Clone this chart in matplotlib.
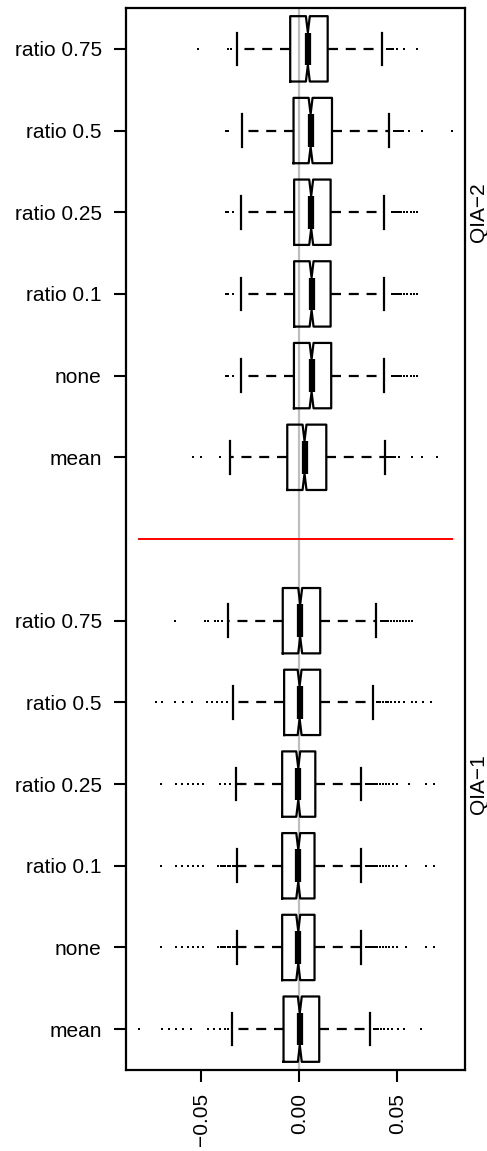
import matplotlib
matplotlib.use("Agg")
import matplotlib.pyplot as plt
import matplotlib.transforms as mtransforms
import numpy as np

plt.rcParams['font.family'] = ['Liberation Sans', 'DejaVu Sans']

# ---------------- data ----------------
labels = ["mean", "none", "ratio 0.1", "ratio 0.25", "ratio 0.5", "ratio 0.75"]
groups = ["QIA\u22121", "QIA\u22122"]

# QIA-1 (bottom group), order as labels
q1_qia1 = [-0.0080, -0.0087, -0.0087, -0.0087, -0.0077, -0.0084]
med_qia1 = [0.0003, -0.0005, -0.0005, -0.0005, 0.0002, 0.0005]
q3_qia1 = [0.0102, 0.0078, 0.0078, 0.0082, 0.0107, 0.0107]
wlo_qia1 = [-0.0344, -0.0319, -0.0319, -0.0324, -0.0339, -0.0362]
whi_qia1 = [0.0360, 0.0317, 0.0317, 0.0317, 0.0377, 0.0389]
fl_qia1 = [
    [-0.0819, -0.0700, -0.0664, -0.0630, -0.0592, -0.0551, -0.0464, -0.0432, -0.0404, -0.0379, -0.0362,
     0.0380, 0.0390, 0.0400, 0.0415, 0.0430, 0.0450, 0.0475, 0.0505, 0.0534, 0.0619],
    [-0.0703, -0.0626, -0.0600, -0.0566, -0.0541, -0.0515, -0.0490, -0.0413, -0.0400, -0.0388, -0.0376,
     -0.0364, -0.0352, -0.0340, -0.0328,
     0.0338, 0.0345, 0.0352, 0.0360, 0.0368, 0.0376, 0.0385, 0.0395, 0.0410, 0.0425, 0.0440, 0.0460,
     0.0480, 0.0500, 0.0546, 0.0645, 0.0687],
    [-0.0703, -0.0626, -0.0600, -0.0566, -0.0541, -0.0515, -0.0490, -0.0413, -0.0400, -0.0388, -0.0376,
     -0.0364, -0.0352, -0.0340, -0.0328,
     0.0338, 0.0345, 0.0352, 0.0360, 0.0368, 0.0376, 0.0385, 0.0395, 0.0410, 0.0425, 0.0440, 0.0460,
     0.0480, 0.0500, 0.0546, 0.0645, 0.0687],
    [-0.0703, -0.0626, -0.0600, -0.0566, -0.0541, -0.0515, -0.0490, -0.0404, -0.0379, -0.0353,
     0.0338, 0.0345, 0.0352, 0.0360, 0.0368, 0.0376, 0.0385, 0.0395, 0.0410, 0.0425, 0.0440, 0.0460,
     0.0480, 0.0500, 0.0559, 0.0645, 0.0687],
    [-0.0728, -0.0698, -0.0635, -0.0592, -0.0549, -0.0472, -0.0447, -0.0421, -0.0396, -0.0370,
     0.0397, 0.0405, 0.0413, 0.0425, 0.0440, 0.0455, 0.0470, 0.0490, 0.0510, 0.0534, 0.0577, 0.0594,
     0.0633, 0.0670],
    [-0.0635, -0.0478, -0.0464, -0.0430, -0.0413, -0.0396,
     0.0415, 0.0425, 0.0435, 0.0445, 0.0455, 0.0470, 0.0485, 0.0500, 0.0515, 0.0530, 0.0545, 0.0560, 0.0577],
]

# QIA-2 (top group)
q1_qia2 = [-0.0061, -0.0027, -0.0026, -0.0026, -0.0029, -0.0046]
med_qia2 = [0.0027, 0.0063, 0.0063, 0.0061, 0.0058, 0.0044]
q3_qia2 = [0.0138, 0.0163, 0.0160, 0.0160, 0.0167, 0.0145]
wlo_qia2 = [-0.0353, -0.0297, -0.0297, -0.0297, -0.0293, -0.0316]
whi_qia2 = [0.0435, 0.0432, 0.0432, 0.0432, 0.0457, 0.0423]
fl_qia2 = [
    [-0.0544, -0.0503, -0.0404, 0.0449, 0.0458, 0.0468, 0.0478, 0.0490, 0.0508, 0.0577, 0.0628, 0.0701],
    [-0.0374, -0.0362, -0.0336, 0.0474, 0.0480, 0.0486, 0.0492, 0.0500, 0.0508, 0.0520, 0.0535, 0.0551,
     0.0568, 0.0585, 0.0599],
    [-0.0374, -0.0362, -0.0336, 0.0474, 0.0480, 0.0486, 0.0492, 0.0500, 0.0508, 0.0520, 0.0535, 0.0551,
     0.0568, 0.0585, 0.0599],
    [-0.0374, -0.0362, -0.0336, 0.0474, 0.0480, 0.0486, 0.0492, 0.0500, 0.0508, 0.0520, 0.0535, 0.0551,
     0.0568, 0.0585, 0.0599],
    [-0.0374, -0.0362, 0.0483, 0.0490, 0.0500, 0.0510, 0.0520, 0.0530, 0.0559, 0.0628, 0.0781],
    [-0.0517, -0.0362, -0.0350, 0.0449, 0.0455, 0.0462, 0.0470, 0.0478, 0.0500, 0.0534, 0.0602],
]
notch_half = 0.001

xticks = [-0.05, 0.0, 0.05]
xticklabels = ["\u22120.05", "0.00", "0.05"]

# ---------------- build ----------------
def make_stats(q1, med, q3, wlo, whi, fl):
    out = []
    for i in range(len(q1)):
        out.append(dict(q1=q1[i], med=med[i], q3=q3[i], whislo=wlo[i], whishi=whi[i],
                        cilo=med[i] - notch_half, cihi=med[i] + notch_half,
                        fliers=np.array(fl[i]), label=labels[i]))
    return out

stats = make_stats(q1_qia1, med_qia1, q3_qia1, wlo_qia1, whi_qia1, fl_qia1) + \
        make_stats(q1_qia2, med_qia2, q3_qia2, wlo_qia2, whi_qia2, fl_qia2)
positions = list(range(1, 7)) + list(range(8, 14))

fig = plt.figure(figsize=(4.87, 11.51), dpi=100)
ax = fig.add_axes([126/487, 1 - 1070/1151, (465-126)/487, (1070-8)/1151])

ax.axvline(0, color="#bebebe", lw=1.6, zorder=0)

ax.bxp(stats, positions=positions, widths=0.8, capwidths=0.4, orientation='horizontal',
       shownotches=True, patch_artist=False,
       boxprops=dict(color='black', linewidth=1.6),
       whiskerprops=dict(color='black', linewidth=1.6, linestyle=(0, (4.5, 3.5))),
       capprops=dict(color='black', linewidth=1.6),
       medianprops=dict(color='black', linewidth=4.5, solid_capstyle='butt'),
       flierprops=dict(marker='s', markersize=1.5, markerfacecolor='black',
                       markeredgewidth=0, linestyle='none'))

all_vals = np.concatenate([np.array(s['fliers']) for s in stats] +
                          [np.array([s['whislo'], s['whishi']]) for s in stats])
dmin, dmax = all_vals.min(), all_vals.max()
ax.plot([dmin, dmax], [7, 7], color='red', lw=1.4, zorder=3)

pad = 0.04 * (dmax - dmin)
ax.set_xlim(dmin - pad, dmax + pad)
ax.set_ylim(0.5, 13.5)

ax.set_yticks(positions)
ax.set_yticklabels(labels + labels, fontsize=15)
ax.set_xticks(xticks)
ax.set_xticklabels(xticklabels, fontsize=15, rotation=90)
ax.tick_params(axis='both', length=8.5, width=1.5, color='black')
ax.tick_params(axis='y', pad=9)
ax.tick_params(axis='x', pad=8)
for sp in ax.spines.values():
    sp.set_linewidth(1.6)

trans = mtransforms.blended_transform_factory(ax.transAxes, ax.transData)
ax.text((478-126)/(465-126), 4, groups[0], rotation=90, ha='center', va='center',
        fontsize=15, transform=trans, clip_on=False)
ax.text((478-126)/(465-126), 11, groups[1], rotation=90, ha='center', va='center',
        fontsize=15, transform=trans, clip_on=False)

fig.savefig("out.png", dpi=100)
